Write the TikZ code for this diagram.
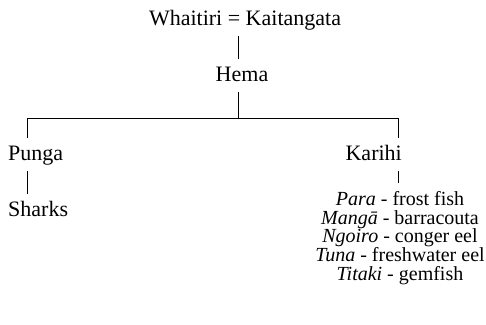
\documentclass[tikz,border=0pt]{standalone}
\usepackage{fontspec}
\setmainfont{Liberation Serif}
\usetikzlibrary{positioning}

\begin{document}
\begin{tikzpicture}[x=1bp, y=-1bp,
  person/.style={font=\fontsize{22bp}{22bp}\selectfont, text height=14.5bp, text depth=4bp, inner xsep=0pt, inner ysep=7bp},
  fishlist/.style={font=\fontsize{20bp}{18.8bp}\selectfont, align=center, inner xsep=0pt, inner ysep=8bp},
  tree/.style={line width=0.9bp}]
  \useasboundingbox (0,0) rectangle (486,324);

  % Parents
  \node[person, anchor=base] (parents) at (245,25) {Whaitiri = Kaitangata};

  % Child
  \node[person, anchor=base] (hema) at (242,81) {Hema};

  % Grandchildren
  \node[person, anchor=base west] (punga) at (8,160) {Punga};
  \node[person, anchor=base east] (karihi) at (402,160) {Karihi};

  % Their offspring
  \node[person, anchor=base west] (sharks) at (8,216) {Sharks};
  \node[fishlist, anchor=north] (fish) at (400,183) {
    \textit{Para} - frost fish\\
    \textit{Mangā} - barracouta\\
    \textit{Ngoiro} - conger eel\\
    \textit{Tuna} - freshwater eel\\
    \textit{Titaki} - gemfish
  };

  % Lines of descent
  \coordinate (trunk) at (238,118);
  \coordinate (lj) at (27,118);
  \coordinate (rj) at (398,118);
  \draw[tree] (trunk |- parents.south) -- (trunk |- hema.north);
  \draw[tree] (trunk |- hema.south) -- (trunk);
  \draw[tree] (lj |- punga.north) -- (lj) -- (rj) -- (rj |- karihi.north);
  \draw[tree] (lj |- punga.south) -- (lj |- sharks.north);
  \draw[tree] (rj |- karihi.south) -- (rj |- fish.north);
\end{tikzpicture}
\end{document}
